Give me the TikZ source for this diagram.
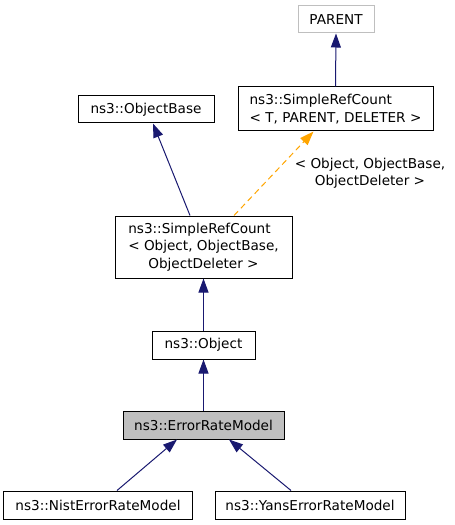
\documentclass[tikz,border=0pt]{standalone}
\usepackage{fontspec}
\setmainfont{DejaVu Sans}
\usetikzlibrary{arrows.meta,calc}
\definecolor{navy}{HTML}{191970}
\definecolor{lgray}{HTML}{BFBFBF}
\definecolor{dorange}{HTML}{FFA500}
\newcommand\myleftln[2]{\rlap{#1}\phantom{#2}}
\begin{document}
\begin{tikzpicture}[x=1bp,y=-1bp,
  every node/.style={font=\fontsize{13.6bp}{17.5bp}\selectfont},
  cls/.style={draw=black, line width=1bp, fill=white, inner sep=0pt, align=center},
  ext/.style={cls, draw=lgray},
  cur/.style={cls, fill=lgray},
  inh/.style={draw=navy, line width=1bp, -{Triangle[length=14bp,width=10bp]}},
  tmpl/.style={draw=dorange, line width=1bp, dash pattern=on 6bp off 4bp, -{Triangle[length=14bp,width=10bp]}},
  lbl/.style={inner sep=0pt, align=center}]
\useasboundingbox (0,0) rectangle (455,525);
\node[ext, minimum width=76bp, minimum height=27bp] (parent) at (336,19.5) {PARENT};
\node[cls, minimum width=195bp, minimum height=44bp] (srct) at (335.5,109) {\myleftln{ns3::SimpleRefCount}{< T, PARENT, DELETER >}\\< T, PARENT, DELETER >};
\node[cls, minimum width=136bp, minimum height=27bp] (objbase) at (146,109.5) {ns3::ObjectBase};
\node[cls, minimum width=177bp, minimum height=62bp] (srco) at (203.5,247) {\myleftln{ns3::SimpleRefCount}{< Object, ObjectBase,}\\< Object, ObjectBase,\\ObjectDeleter >};
\node[cls, minimum width=103bp, minimum height=28bp] (obj) at (203.5,345) {ns3::Object};
\node[cur, minimum width=161bp, minimum height=28bp] (erm) at (203.5,425) {ns3::ErrorRateModel};
\node[cls, minimum width=188bp, minimum height=28bp] (nist) at (98,505) {ns3::NistErrorRateModel};
\node[cls, minimum width=190bp, minimum height=28bp] (yans) at (310,505) {ns3::YansErrorRateModel};
\node[lbl] (tl) at (370,173) {< Object, ObjectBase,\\ObjectDeleter >};
\draw[inh] (srct.north) -- (parent.south);
\draw[inh] ($(srco.north)+(-13.5,0)$) -- ($(objbase.south)+(7,0)$);
\draw[tmpl] ($(srco.north)+(30.5,0)$) -- ($(srct.south)+(-22,0)$);
\draw[inh] (obj.north) -- (srco.south);
\draw[inh] (erm.north) -- (obj.south);
\draw[inh] ($(nist.north)+(19,0)$) -- ($(erm.south)+(-26.5,0)$);
\draw[inh] ($(yans.north)+(-19,0)$) -- ($(erm.south)+(25.5,0)$);
\end{tikzpicture}
\end{document}
